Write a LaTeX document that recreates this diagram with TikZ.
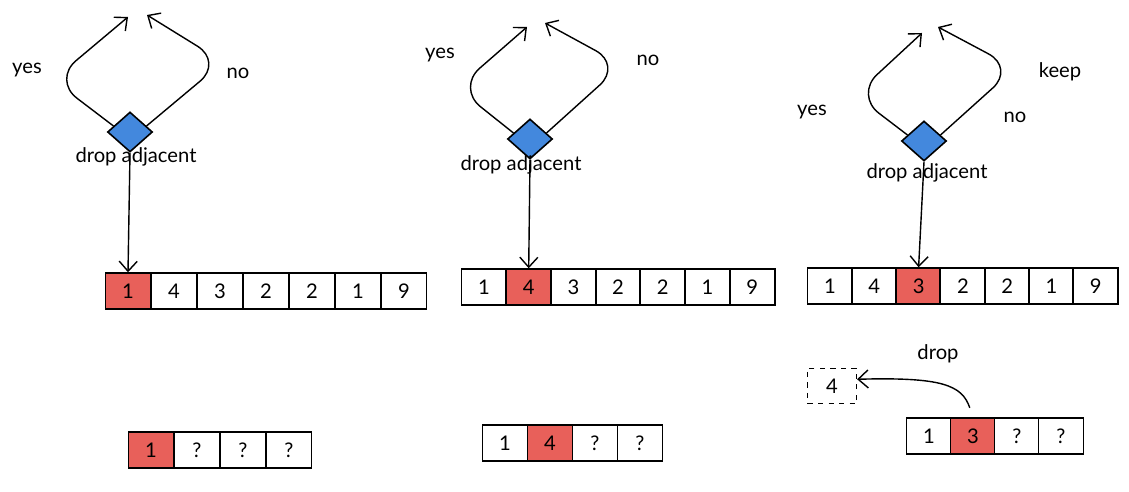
\documentclass[tikz,border=0pt]{standalone}
\usepackage{fontspec}
\setmainfont{Lato}
\usepackage{tikz}
\usetikzlibrary{arrows.meta}
\usetikzlibrary{shapes.geometric}
\definecolor{hitred}{HTML}{E8605A}
\definecolor{choiceblue}{HTML}{4388DD}
\tikzset{
  cell/.style={draw, line width=1.1pt, minimum width=0.9cm, minimum height=0.71cm, inner sep=0pt, font=\fontsize{11.5}{13}\selectfont},
  hit/.style={fill=hitred},
  plain/.style={fill=white},
  choice/.style={diamond, draw, fill=choiceblue, line width=0.9pt, minimum width=0.9cm, minimum height=0.8cm, inner sep=0pt},
  flow/.style={line width=0.8pt, -{Straight Barb[length=2mm,width=3.6mm]}},
  backedge/.style={flow, rounded corners=0.6cm},
  lbl/.style={font=\fontsize{11.5}{13}\selectfont}
}

\begin{document}
\begin{tikzpicture}[x=0.02cm,y=-0.02cm]
        \useasboundingbox (0,0) rectangle (1129,492);

        % first step
        \node[choice] (q1) at (130,132) {};
        \node[lbl] at (136,157) {drop adjacent};
        \coordinate (t1y) at (128,17);
        \coordinate (t1n) at (147,15);
        \draw[backedge] (q1.160) -- (53,80) -- (t1y);
        \draw[backedge] (q1.20) -- (223,62) -- (t1n);
        \node[lbl] at (27,70) {yes};
        \node[lbl] at (238,73) {no};
        \foreach \v/\st [count=\i] in {1/hit,4/plain,3/plain,2/plain,2/plain,1/plain,9/plain}
            \node[cell,\st] (a\i) at ({128+(\i-1)*46},291) {\v};
        \draw[flow] (q1.south) -- (a1.north);
        \foreach \v/\st [count=\i] in {1/hit,?/plain,?/plain,?/plain}
            \node[cell,\st] (x\i) at ({151+(\i-1)*46},450) {\v};

        % second step
        \node[choice] (q2) at (530,139) {};
        \node[lbl] at (521,165) {drop adjacent};
        \coordinate (t2y) at (527,27);
        \coordinate (t2n) at (545,23);
        \draw[backedge] (q2.160) -- (457,88) -- (t2y);
        \draw[backedge] (q2.20) -- (622,65) -- (t2n);
        \node[lbl] at (440,55) {yes};
        \node[lbl] at (648,60) {no};
        \foreach \v/\st [count=\i] in {1/plain,4/hit,3/plain,2/plain,2/plain,1/plain,9/plain}
            \node[cell,\st] (b\i) at ({484+(\i-1)*44.7},287) {\v};
        \draw[flow] (q2.south) -- (b2.north);
        \foreach \v/\st [count=\i] in {1/plain,4/hit,?/plain,?/plain}
            \node[cell,\st] (y\i) at ({505+(\i-1)*45},443) {\v};

        % third step
        \node[choice] (q3) at (924,141) {};
        \node[lbl] at (927,173) {drop adjacent};
        \coordinate (t3y) at (922,33);
        \coordinate (t3n) at (938,27);
        \draw[backedge] (q3.160) -- (855,95) -- (t3y);
        \draw[backedge] (q3.20) -- (1015,68) -- (t3n);
        \node[lbl] at (812,112) {yes};
        \node[lbl] at (1015,117) {no};
        \node[lbl] at (1060,72) {keep};
        \foreach \v/\st [count=\i] in {1/plain,4/plain,3/hit,2/plain,2/plain,1/plain,9/plain}
            \node[cell,\st] (c\i) at ({830+(\i-1)*44.3},286) {\v};
        \draw[flow] (q3.south) -- (c3.north);
        \foreach \v/\st [count=\i] in {1/plain,3/hit,?/plain,?/plain}
            \node[cell,\st] (z\i) at ({929+(\i-1)*44},436) {\v};

        % dropped value
        \node[cell,dashed,line width=0.7pt,minimum width=0.98cm] (gone) at (832,386) {4};
        \node[lbl] at (938,354) {drop};
        \draw[flow,shorten <=0.2cm] (z2.north) .. controls (962,385) and (942,377) .. (gone.15);
    \end{tikzpicture}
\end{document}
